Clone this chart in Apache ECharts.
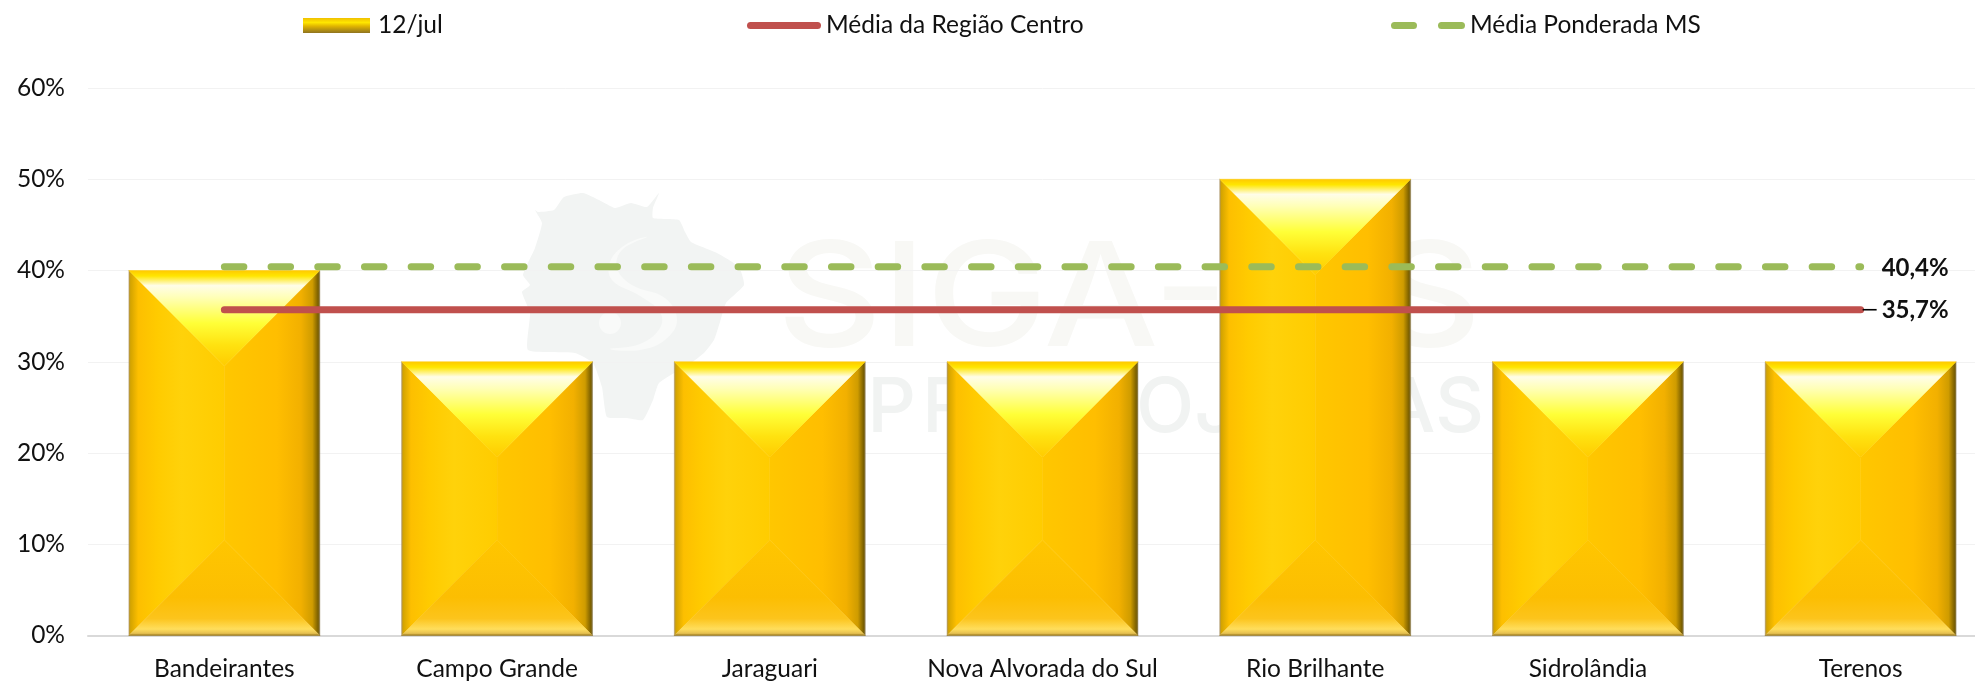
<!DOCTYPE html>
<html><head><meta charset="utf-8">
<style>html,body{margin:0;padding:0;background:#fff;overflow:hidden;width:1975px;height:684px}#c{width:2000px;height:684px}</style>
<script src="https://cdn.jsdelivr.net/npm/echarts@6/dist/echarts.min.js"></script>
</head><body><div id="c"></div>
<script>
const categories = ['Bandeirantes','Campo Grande','Jaraguari','Nova Alvorada do Sul','Rio Brilhante','Sidrolândia','Terenos'];
const barValues = [40,30,30,30,50,30,30];
const regionAvg = [35.7,35.7,35.7,35.7,35.7,35.7,35.7];
const msAvg = [40.4,40.4,40.4,40.4,40.4,40.4,40.4];
const seriesNames = ['12/jul','Média da Região Centro','Média Ponderada MS'];
const yTicks = {min:0,max:60,interval:10};
const FONT = 'Lato';

const grad = (x,y,x2,y2,stops)=>new echarts.graphic.LinearGradient(x,y,x2,y2,stops.map(s=>({offset:s[0],color:s[1]})));
const leftFill = grad(0,0,1,0,[[0,'#a89060'],[0.02,'#d4a400'],[0.1,'#fdbf00'],[0.3,'#ffcb00'],[0.55,'#ffd20a'],[1,'#ffcc00']]);
const rightFill = grad(0,0,1,0,[[0,'#ffc700'],[0.55,'#ffbe00'],[0.8,'#f2b000'],[0.92,'#cf9c00'],[0.98,'#7a5f00'],[1,'#8a7a50']]);
const topFill = grad(0,0,0,1,[[0,'#ffc800'],[0.06,'#ffe600'],[0.16,'#fffde8'],[0.28,'#ffffb8'],[0.55,'#ffff38'],[0.78,'#ffe210'],[1,'#ffcb00']]);
const bottomFill = grad(0,0,0,1,[[0,'#ffc600'],[0.6,'#fcbe02'],[0.82,'#fcc41c'],[0.93,'#ffde5c'],[0.975,'#e6c050'],[1,'#8a6a10']]);

function renderBar(params, api){
  const i = api.value(0), v = api.value(1);
  const top = api.coord([i,v]), base = api.coord([i,0]);
  const w = api.size([1,0])[0]*0.7;
  const L = top[0]-w/2, R = top[0]+w/2, C = top[0], T = top[1], B = base[1], b = w/2;
  const poly = (points,fill)=>({type:'polygon',shape:{points},style:{fill,stroke:fill,lineWidth:0.5}});
  return {type:'group',children:[
    poly([[L,T],[C,T+b],[C,B-b],[L,B]],leftFill),
    poly([[R,T],[C,T+b],[C,B-b],[R,B]],rightFill),
    poly([[L,T],[R,T],[C,T+b]],topFill),
    poly([[L,B],[R,B],[C,B-b]],bottomFill)
  ]};
}

const mapPts = [[535,210],[542,223],[535,248],[523,275],[530,285],[522,292],[530,313],[528,350],[575,353],[593,363],[602,387],[607,417],[627,418],[643,420],[653,400],[659,383],[691,363],[704,353],[714,340],[720,322],[726,303],[744,285],[739,267],[717,253],[691,242],[685,232],[679,220],[653,218],[653,208],[659,193],[647,207],[631,203],[615,208],[599,200],[583,193],[564,197],[554,210],[538,212]];
const swirlPts = [[647,237],[622,250],[617,268],[632,285],[665,298],[677,320],[665,340],[640,350],[610,349],[640,344],[660,328],[660,312],[640,296],[612,280],[610,262],[625,245]];
const wmText = (text,x,y,size,fill,align,sx)=>({type:'text',x,y,scaleX:sx||1,originX:0,originY:0,z:-1,silent:true,
  style:{text,font:'500 '+size+'px Inter',fill,textAlign:align||'left',textVerticalAlign:'middle'}});

const chart = echarts.init(document.getElementById('c'),null,{renderer:'canvas'});
const txt = {fontFamily:FONT,fontSize:24.5,color:'#111'};
const endLabel = {show:true,distance:21,valueAnimation:false,
  formatter:p=>Number(p.value).toFixed(1).replace('.',',')+'%',fontFamily:FONT,fontSize:24,fontWeight:'bold',color:'#111',offset:[0,1]};

chart.setOption({
  animation:false,
  backgroundColor:'#fff',
  textStyle:{fontFamily:FONT},
  grid:{left:88,top:88,width:1909,height:547.5,containLabel:false},
  xAxis:{type:'category',data:categories,axisTick:{show:false},
    axisLine:{lineStyle:{color:'#d9d9d9',width:2}},
    axisLabel:Object.assign({margin:21,interval:0},txt),splitLine:{show:false}},
  yAxis:{type:'value',min:yTicks.min,max:yTicks.max,interval:yTicks.interval,
    axisLine:{show:false},axisTick:{show:false},
    axisLabel:Object.assign({margin:23,formatter:'{value}%'},txt),
    splitLine:{lineStyle:{color:'#f2f2f2',width:1}}},
  legend:[
    {data:[{name:seriesNames[0],icon:'rect',itemStyle:{color:grad(0,0,0,1,[[0,'#f0c000'],[0.3,'#ffe600'],[0.55,'#e0b400'],[1,'#8f7420']])}}],padding:0,left:303,top:13,itemWidth:67,itemHeight:15,textStyle:Object.assign({padding:[0,0,0,3]},txt)},
    {data:[{name:seriesNames[1],icon:'path://M3.5 0H70.5A3.5 3.5 0 0 1 70.5 7H3.5A3.5 3.5 0 0 1 3.5 0Z'}],padding:0,left:747,top:13,itemWidth:74,itemHeight:7,textStyle:txt},
    {data:[{name:seriesNames[2],icon:'path://M3.5 0H22.5A3.5 3.5 0 0 1 22.5 7H3.5A3.5 3.5 0 0 1 3.5 0Z M50.5 0H70.5A3.5 3.5 0 0 1 70.5 7H50.5A3.5 3.5 0 0 1 50.5 0Z'}],padding:0,left:1391,top:13,itemWidth:74,itemHeight:7,textStyle:txt}
  ],
  graphic:[
    {type:'polygon',z:-1,silent:true,shape:{points:mapPts,smooth:0.15},style:{fill:'#f2f4f3'}},
    {type:'polygon',z:-1,silent:true,shape:{points:swirlPts,smooth:0.4},style:{fill:'#f9faf9'}},
    {type:'circle',z:-1,silent:true,shape:{cx:610,cy:323,r:11},style:{fill:'#f9faf9'}},
    wmText('SIGA-MS',777,302,145,'#f8f8f5','left',1.12),
    wmText('P',916,409,76,'#f1f3f2','right'),
    wmText('R',922,409,76,'#f1f3f2','left'),
    wmText('OJ',1136,409,76,'#f1f3f2','left'),
    wmText('AS',1484,409,76,'#f1f3f2','right')
  ],
  series:[
    {name:seriesNames[0],type:'custom',renderItem:renderBar,data:barValues.map((v,i)=>[i,v]),encode:{x:0,y:1},z:2,clip:false},
    {name:seriesNames[1],type:'line',data:regionAvg,symbol:'none',z:3,
      lineStyle:{color:'#c0504d',width:7,cap:'round'},itemStyle:{color:'#c0504d'},
      endLabel,
      markPoint:{silent:true,symbol:'rect',symbolSize:[14,1.6],symbolOffset:[9,0],itemStyle:{color:'#000'},label:{show:false},
        data:[{coord:[categories.length-1,regionAvg[regionAvg.length-1]]}]}},
    {name:seriesNames[2],type:'line',data:msAvg,symbol:'none',z:4,
      lineStyle:{color:'#9bbb59',width:7,type:[19.5,27.2],cap:'round'},itemStyle:{color:'#9bbb59'},
      endLabel}
  ]
});
</script></body></html>
